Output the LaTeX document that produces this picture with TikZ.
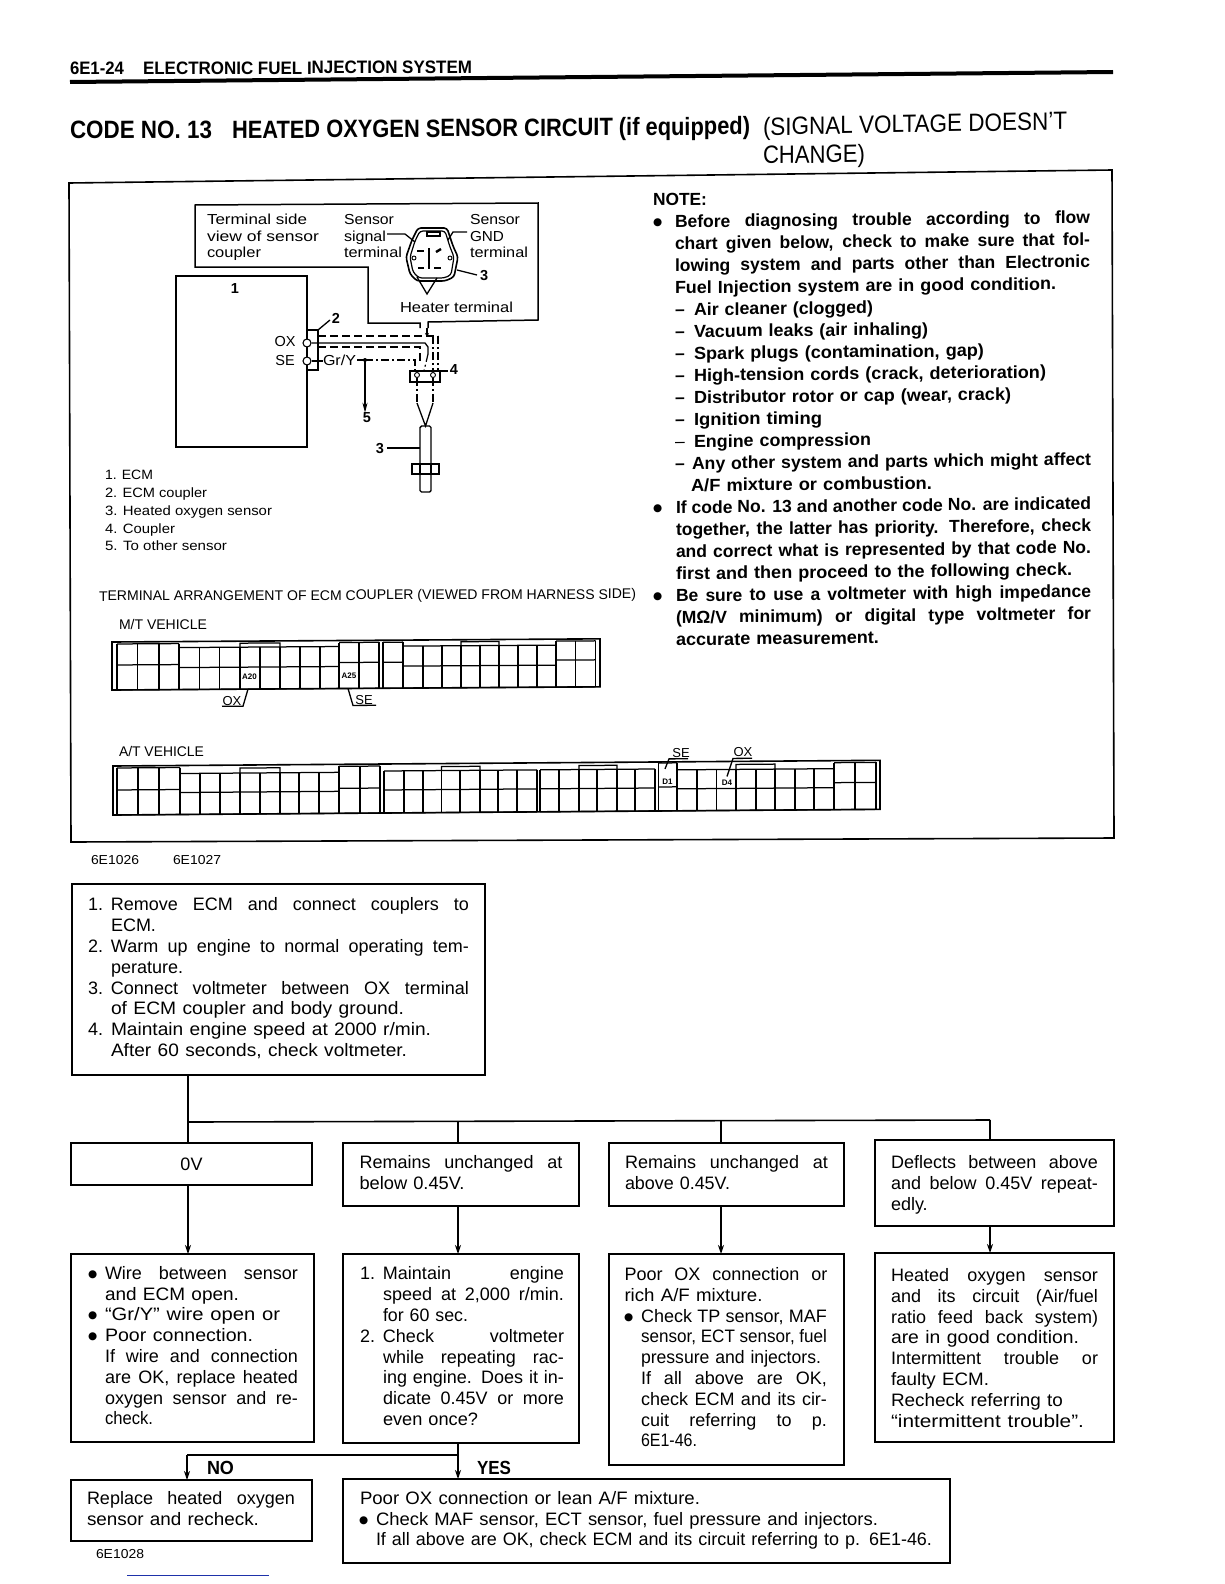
\documentclass[tikz,border=0pt]{standalone}
\usepackage{fontspec}
\usepackage{graphicx}
\setmainfont{Liberation Sans}
\newfontfamily\bulfont{DejaVu Sans}
\usetikzlibrary{arrows.meta}
\definecolor{scanblue}{RGB}{30,50,170}
\newsavebox\lnbox
\newcommand\fw[2]{\resizebox{#1pt}{\height}{#2}}
\newcommand\jl[2]{\begingroup\spaceskip=0pt\xspaceskip=0pt\relax\sbox\lnbox{#2}\ifdim\wd\lnbox>#1pt\relax\resizebox{#1pt}{\height}{\usebox\lnbox}\else\makebox[#1pt][s]{#2}\fi\endgroup}
\newcommand\ind[1]{\hspace*{#1pt}}
\newcommand\bul[1]{\makebox[#1pt][l]{\raisebox{2pt}{\bulfont\fontsize{10.5}{11}\selectfont ●}}}
\newcommand\num[2]{\makebox[#1pt][l]{#2}}
\newcommand\flowfont{\fontsize{18}{20.8}\selectfont}
\newcommand\notefont{\fontsize{17.5}{22}\selectfont\bfseries}
\newcommand\smallfont{\fontsize{14.5}{16.5}\selectfont}
\newcommand\legfont{\fontsize{13.5}{17.8}\selectfont}
\newcommand\cells[6]{%
  \foreach \xx in {#3} {\draw[cell] (\xx,#4) -- (\xx,#6);}
  \draw[cell] (#1,#4) -- (#2,#4);
  \draw[cell] (#1,#5) -- (#2,#5);
  \draw[cell] (#1,#6) -- (#2,#6);}
\tikzset{
  fbox/.style={draw,line width=1.6pt,anchor=north west,inner xsep=4pt,inner ysep=0pt,outer sep=0pt,align=left,font=\flowfont},
  lbl/.style={inner sep=0pt,outer sep=0pt,anchor=base west},
  blk/.style={inner sep=0pt,outer sep=0pt,anchor=north west,align=left},
  flowline/.style={line width=1.3pt},
  flowarrow/.style={line width=1.3pt,-{Stealth[length=9pt,width=6pt]}},
  frameline/.style={line width=1.6pt},
  wire/.style={line width=1.3pt},
  shield/.style={line width=1.2pt,dash pattern=on 8pt off 4pt},
  ddwire/.style={line width=1.2pt,dash pattern=on 8pt off 3pt on 2pt off 3pt},
  cell/.style={line width=1.25pt},
  outer/.style={line width=1.6pt},
  part/.style={draw,line width=1.4pt,anchor=north west,inner sep=0pt,outer sep=0pt},
  pin/.style={draw,circle,fill=white,line width=1.1pt,minimum size=8pt,inner sep=0pt},
  tinypin/.style={draw,circle,fill=white,line width=0.9pt,minimum size=5pt,inner sep=0pt},
  tinytxt/.style={inner sep=0pt,font=\fontsize{8}{9}\selectfont\bfseries},
}
\begin{document}
\begin{tikzpicture}[x=1pt,y=-1pt]
\useasboundingbox (0,0) rectangle (1224,1584);

% ---------- header
\node[lbl,yslant=0.003,font=\fontsize{18}{20}\selectfont\bfseries] (hd1) at (70,74.5) {\fw{54}{6E1-24}};
\node[lbl,yslant=0.003,font=\fontsize{18}{20}\selectfont\bfseries] (hd2) at (143,74.5) {\fw{329}{ELECTRONIC FUEL INJECTION SYSTEM}};
\coordinate (ruleL) at (70,82);
\coordinate (ruleR) at (1113,72);
\draw[line width=4pt] (ruleL) -- (ruleR);
\node[lbl,yslant=0.0075,font=\fontsize{25}{27}\selectfont\bfseries] (ti1) at (70,139) {\fw{142}{CODE NO. 13}};
\node[lbl,yslant=0.0075,font=\fontsize{25}{27}\selectfont\bfseries] (ti2) at (232,138.5) {\fw{518}{HEATED OXYGEN SENSOR CIRCUIT (if equipped)}};
\node[lbl,yslant=0.02,font=\fontsize{25}{27}\selectfont] (ti3) at (763,135.5) {\fw{304}{(SIGNAL VOLTAGE DOESN'T}};
\node[lbl,yslant=0.02,font=\fontsize{25}{27}\selectfont] (ti4) at (763,164) {\fw{102}{CHANGE)}};

% ---------- frame
\coordinate (frTL) at (69,183);
\coordinate (frTR) at (1112,170);
\coordinate (frBR) at (1114,838);
\coordinate (frBL) at (71,842);
\draw[frameline] (frTL) -- (frTR) -- (frBR) -- (frBL) -- cycle;

% ---------- inset box
\draw[wire,line width=1.5pt] (420,328) -- (420,323) -- (368,323) -- (368,267) -- (195,267) -- (195,205) -- (538,203) -- (538,320) -- (428,322) -- (428,328);
\node[blk,font=\smallfont] (insetA) at (207,214.4) {\fw{100}{Terminal side}\\\fw{112}{view of sensor}\\\fw{54}{coupler}};
\node[blk,font=\smallfont] (insetB) at (344,214.4) {\fw{50}{Sensor}\\\fw{42}{signal}\\\fw{58}{terminal}};
\node[blk,font=\smallfont] (insetC) at (470,214.4) {\fw{50}{Sensor}\\\fw{34}{GND}\\\fw{58}{terminal}};
\node[lbl,font=\smallfont] (heater) at (400,312) {\fw{113}{Heater terminal}};
\node[lbl,font=\smallfont\bfseries] (n3a) at (480,280.5) {3};
% sensor coupler glyph
\draw[line width=1.6pt,rounded corners=3pt] (418,228) -- (447,228) -- (453,246) -- (458,257) -- (454,277) -- (445,281) -- (417,281) -- (410,274) -- (406,257) -- (412,240) -- cycle;
\draw[line width=1.2pt,rounded corners=3pt] (420,231) -- (445,231) -- (450,247) -- (454,257) -- (451,275) -- (444,278) -- (419,278) -- (413,272) -- (410,257) -- (415,241) -- cycle;
\draw[line width=1.2pt] (427,232) rectangle (440,236);
\draw[line width=2.4pt] (429,248) -- (429,269);
\draw[line width=2.4pt] (417,251) -- (424,251);
\draw[line width=2.4pt] (436,252) -- (441,249);
\draw[line width=2.4pt] (418,268) -- (424,268);
\draw[line width=2.4pt] (434,268) -- (441,268);
\node[draw,circle,fill=white,line width=0.9pt,minimum size=4pt,inner sep=0pt] (cplL) at (414,258) {};
\node[draw,circle,fill=white,line width=0.9pt,minimum size=4pt,inner sep=0pt] (cplR) at (450,258) {};
\draw[wire] (387,234) -- (405,234) -- (415,242);
\draw[wire] (467,232) -- (453,232) -- (448,240);
\draw[wire] (457,270) -- (477,275);
\draw[wire] (417,277) -- (427,294) -- (437,278);

% ---------- ECM
\node[part,minimum width=131pt,minimum height=171pt] (ecm) at (176,276) {};
\node[inner sep=0pt,font=\smallfont\bfseries] (ecmno) at (235,289) {1};
\node[part,fill=white,minimum width=11pt,minimum height=40pt] (cpl2) at (307,330) {};
\node[pin] (oxpin) at (307,343) {};
\node[pin] (sepin) at (307,361) {};
\node[inner sep=0pt,font=\smallfont] (oxt) at (285,342) {OX};
\node[inner sep=0pt,font=\smallfont] (set) at (285,361) {SE};
\draw[wire] (cpl2.north east) -- (330,320);
\node[inner sep=0pt,font=\smallfont\bfseries] (n2) at (336,318) {2};
% wires
\coordinate (oxb) at (425,343);
\draw[wire] (oxpin) -- (oxb) -- (428,347) -- (428,354);
\draw[shield] (cpl2.north east |- 0,336) -- (438,336);
\draw[ddwire] (438,336) -- (438,371);
\draw[shield] (318,347) -- (420,347) -- (420,362);
\draw[ddwire] (433,336) -- (433,371);
\draw[ddwire] (428,354) -- (424,371);
\draw[wire,-{Stealth[length=4pt,width=4pt]}] (427,328) -- (427,337);
\draw[wire] (sepin) -- (323,361);
\node[lbl,font=\smallfont] (gry) at (323,365) {\fw{33}{Gr/Y}};
\coordinate (jct) at (365,360);
\draw[wire] (357,360) -- (jct);
\draw[ddwire] (jct) -- (415,360) -- (415,371);
\fill (jct) circle (2pt);
\node[inner sep=0pt,font=\smallfont\bfseries] (n5) at (367,418) {5};
\draw[wire,-{Stealth[length=10pt,width=5pt]}] (jct) -- (n5.north -| jct);
% coupler 4
\node[part,fill=white,minimum width=30pt,minimum height=11pt] (c4) at (410,371) {};
\node[tinypin] (c4a) at (417,375) {};
\node[tinypin] (c4b) at (433,375) {};
\draw[wire] (c4.north east) -- (448,371);
\node[inner sep=0pt,font=\smallfont\bfseries] (n4) at (454,370) {4};
% sensor
\node[draw,line width=1.4pt,rounded corners=1.5pt,anchor=north west,inner sep=0pt,outer sep=0pt,minimum width=11pt,minimum height=66pt] (sensor) at (420,426) {};
\node[part,fill=white,minimum width=27pt,minimum height=10pt] (flange) at (412,464) {};
\draw[wire] (420,464) -- (420,474) (431,464) -- (431,474);
\draw[ddwire] (c4a) -- (417,403);
\draw[ddwire] (c4b) -- (433,403);
\draw[wire] (417,403) -- (sensor.north) -- (433,403);
\node[inner sep=0pt,font=\smallfont\bfseries] (n3b) at (380,449) {3};
\draw[wire] (387,448) -- (sensor.west |- 0,448);

% ---------- legend
\node[blk,font=\legfont] (legend) at (105,470.2) {\fw{48}{1. ECM}\\\fw{102}{2. ECM coupler}\\\fw{167}{3. Heated oxygen sensor}\\\fw{70}{4. Coupler}\\\fw{122}{5. To other sensor}};

% ---------- note
\node[blk,font=\notefont,yslant=0.01,text width=470pt] (note) at (653,193.6) {%
\fw{54}{NOTE:}\\
\bul{22}\jl{415}{Before diagnosing trouble according to flow}\\
\ind{22}\jl{415}{chart given below, check to make sure that fol-}\\
\ind{22}\jl{415}{lowing system and parts other than Electronic}\\
\ind{22}\fw{381}{Fuel Injection system are in good condition.}\\
\ind{22}\makebox[19pt][l]{–}\fw{179}{Air cleaner (clogged)}\\
\ind{22}\makebox[19pt][l]{–}\fw{234}{Vacuum leaks (air inhaling)}\\
\ind{22}\makebox[19pt][l]{–}\fw{290}{Spark plugs (contamination, gap)}\\
\ind{22}\makebox[19pt][l]{–}\fw{352}{High-tension cords (crack, deterioration)}\\
\ind{22}\makebox[19pt][l]{–}\fw{317}{Distributor rotor or cap (wear, crack)}\\
\ind{22}\makebox[19pt][l]{–}\fw{128}{Ignition timing}\\
\ind{22}\makebox[19pt][l]{\mdseries –}\fw{177}{Engine compression}\\
\ind{22}\makebox[17pt][l]{–}\fw{399}{Any other system and parts which might affect}\\
\ind{38}\fw{241}{A/F mixture or combustion.}\\
\bul{23}\jl{415}{If code No. 13 and another code No. are indicated}\\
\ind{23}\jl{415}{together, the latter has priority. Therefore, check}\\
\ind{23}\jl{415}{and correct what is represented by that code No.}\\
\ind{23}\fw{396}{first and then proceed to the following check.}\\
\bul{23}\jl{415}{Be sure to use a voltmeter with high impedance}\\
\ind{23}\jl{415}{(MΩ/V minimum) or digital type voltmeter for}\\
\ind{23}\fw{203}{accurate measurement.}};

% ---------- terminal arrangement
\node[lbl,yslant=0.004,font=\fontsize{14}{16}\selectfont] (term) at (99,601) {\fw{537}{TERMINAL ARRANGEMENT OF ECM COUPLER (VIEWED FROM HARNESS SIDE)}};
\node[lbl,font=\fontsize{14}{16}\selectfont] (mt) at (119,629) {\fw{88}{M/T VEHICLE}};
\node[lbl,font=\fontsize{14}{16}\selectfont] (at) at (119,756) {\fw{85}{A/T VEHICLE}};

\begin{scope}[cm={1,0.0065,0,1,(0pt,-0.73pt)}]
  \draw[outer] (112,642) rectangle (600,690);
  \cells{117}{179}{117,137.5,159,179}{644}{665}{690}
  \cells{179}{339}{179,199.5,219.5,240,260,280,300,320,339}{648}{668}{690}
  \cells{339}{379}{339,359,379}{644}{664}{690}
  \cells{383}{403}{383,403}{644}{664}{690}
  \cells{403}{556}{403,423,442,461,480,499,518,537,556}{648}{668}{690}
  \cells{556}{595.5}{556,575.5,595.5}{644}{663}{690}
  \draw[cell] (240,648) -- (240,644) -- (280,644) -- (280,648);
  \draw[cell] (461,648) -- (461,644) -- (499,644) -- (499,648);
  \node[tinytxt] (a20) at (249.5,678) {A20};
  \node[tinytxt] (a25) at (349,677) {A25};
  \node[inner sep=0pt,font=\fontsize{13}{15}\selectfont] (oxm) at (232,702) {OX};
  \node[inner sep=0pt,font=\fontsize{13}{15}\selectfont] (sem) at (364,702) {SE};
  \coordinate (oxmA) at (248,690);
  \coordinate (semA) at (348,690);
  \draw[wire] (oxmA) -- (243,707) -- (222,707);
  \draw[wire] (semA) -- (353,707) -- (376,707);
\end{scope}

\begin{scope}[cm={1,0.0074,0,1,(0pt,-0.84pt)}]
  \draw[outer] (113,766) rectangle (880,815);
  \cells{117}{180}{117,138,159,180}{768}{790}{815}
  \cells{180}{339}{180,200,220,240,260,280,299,319,339}{774}{793}{815}
  \cells{339}{380}{339,360,380}{768}{790}{815}
  \cells{384}{537}{384,404,423,441.5,460,480,498,517,537}{773}{792}{815}
  \cells{540}{655}{540,559,579,597,617,635,655}{773}{792}{815}
  \cells{658.5}{677}{658.5,677}{767}{791}{815}
  \cells{677}{834}{677,697,716.5,736,756,775,795,814,834}{774}{793}{815}
  \cells{834}{876}{834,855,876}{768}{788}{815}
  \draw[cell] (240,774) -- (240,769) -- (280,769) -- (280,774);
  \draw[cell] (441.5,773) -- (441.5,769) -- (480,769) -- (480,773);
  \draw[cell] (579,773) -- (579,769) -- (617,769) -- (617,773);
  \draw[cell] (736,774) -- (736,769) -- (775,769) -- (775,774);
  \node[tinytxt] (d1) at (667.5,786) {D1};
  \node[tinytxt] (d4) at (727,787) {D4};
  \node[inner sep=0pt,font=\fontsize{13}{15}\selectfont] (set2) at (681,757) {SE};
  \node[inner sep=0pt,font=\fontsize{13}{15}\selectfont] (oxt2) at (743,757) {OX};
  \coordinate (d1top) at (665,773);
  \coordinate (d4top) at (727,781);
  \draw[wire] (d1top) -- (669,763) -- (688,763);
  \draw[wire] (d4top) -- (733,763) -- (752,763);
\end{scope}

\node[lbl,font=\fontsize{13}{15}\selectfont] (fig1) at (91,864) {\fw{48}{6E1026}};
\node[lbl,font=\fontsize{13}{15}\selectfont] (fig2) at (173,864) {\fw{48}{6E1027}};

% ---------- flowchart
\node[fbox,minimum height=191pt,text width=405pt] (A) at (72,884) {%
\ind{12}\strut\num{23}{1.}\jl{358}{Remove ECM and connect couplers to}\\
\ind{35}ECM.\\
\ind{12}\num{23}{2.}\jl{358}{Warm up engine to normal operating tem-}\\
\ind{35}perature.\\
\ind{12}\num{23}{3.}\jl{358}{Connect voltmeter between OX terminal}\\
\ind{35}\fw{293}{of ECM coupler and body ground.}\\
\ind{12}\num{23}{4.}\fw{320}{Maintain engine speed at 2000 r/min.}\\
\ind{35}\fw{296}{After 60 seconds, check voltmeter.}\strut};

\node[fbox,minimum height=42pt,text width=233pt,align=center] (zero) at (71,1143) {0V};
\node[fbox,minimum height=63pt,text width=228pt] (R1) at (343,1143) {%
\ind{12.5}\strut\jl{203}{Remains unchanged at}\\
\ind{12.5}\fw{105}{below 0.45V.}\strut};
\node[fbox,minimum height=63pt,text width=227pt] (R2) at (609,1143) {%
\ind{12}\strut\jl{203}{Remains unchanged at}\\
\ind{12}\fw{105}{above 0.45V.}\strut};
\node[fbox,minimum height=86pt,text width=231pt] (D) at (875,1140) {%
\vspace*{-1pt}\par
\ind{12}\strut\jl{207}{Deflects between above}\\
\ind{12}\jl{207}{and below 0.45V repeat-}\\
\ind{12}edly.\strut};

\node[fbox,minimum height=188pt,text width=235pt] (W) at (71,1254) {%
\ind{13}\strut\bul{17}\jl{193}{Wire between sensor}\\
\ind{30}\fw{134}{and ECM open.}\\
\ind{13}\bul{17}\fw{175}{“Gr/Y” wire open or}\\
\ind{13}\bul{17}\fw{148}{Poor connection.}\\
\ind{30}\jl{193}{If wire and connection}\\
\ind{30}\jl{193}{are OK, replace heated}\\
\ind{30}\jl{193}{oxygen sensor and re-}\\
\ind{30}\fw{48}{check.}\strut};

\node[fbox,minimum height=189pt,text width=228pt] (M) at (343,1254) {%
\ind{13}\strut\num{23}{1.}\jl{181}{Maintain engine}\\
\ind{36}\jl{181}{speed at 2,000 r/min.}\\
\ind{36}\fw{85}{for 60 sec.}\\
\ind{13}\num{23}{2.}\jl{181}{Check voltmeter}\\
\ind{36}\jl{181}{while repeating rac-}\\
\ind{36}\jl{181}{ing engine. Does it in-}\\
\ind{36}\jl{181}{dicate 0.45V or more}\\
\ind{36}\fw{95}{even once?}\strut};

\node[fbox,minimum height=211pt,text width=227pt] (P) at (609,1254) {%
\ind{11.5}\strut\jl{203}{Poor OX connection or}\\
\ind{11.5}\fw{138}{rich A/F mixture.}\\
\ind{11}\bul{17}\jl{186}{Check TP sensor, MAF}\\
\ind{28}\jl{186}{sensor, ECT sensor, fuel}\\
\ind{28}\fw{180}{pressure and injectors.}\\
\ind{28}\jl{186}{If all above are OK,}\\
\ind{28}\jl{186}{check ECM and its cir-}\\
\ind{28}\jl{186}{cuit referring to p.}\\
\ind{28}\fw{56}{6E1-46.}\strut};

\node[fbox,minimum height=189pt,text width=231pt] (H) at (875,1253) {%
\vspace*{-1pt}\par
\ind{12}\strut\jl{207}{Heated oxygen sensor}\\
\ind{12}\jl{207}{and its circuit (Air/fuel}\\
\ind{12}\jl{207}{ratio feed back system)}\\
\ind{12}\fw{188}{are in good condition.}\\
\ind{12}\jl{207}{Intermittent trouble or}\\
\ind{12}\fw{98}{faulty ECM.}\\
\ind{12}\fw{172}{Recheck referring to}\\
\ind{12}\fw{193}{“intermittent trouble”.}\strut};

\node[fbox,minimum height=61pt,text width=233pt] (Rep) at (71,1480) {%
\ind{12}\strut\jl{208}{Replace heated oxygen}\\
\ind{12}\fw{172}{sensor and recheck.}\strut};
\node[fbox,minimum height=84pt,text width=599pt] (Poor) at (343,1479) {%
\ind{13}\strut\fw{340}{Poor OX connection or lean A/F mixture.}\\
\ind{12}\bul{17}\fw{502}{Check MAF sensor, ECT sensor, fuel pressure and injectors.}\\
\ind{29}\fw{556}{If all above are OK, check ECM and its circuit referring to p. 6E1-46.}\strut};

\node[lbl,font=\fontsize{13}{15}\selectfont] (fig3) at (96,1558) {\fw{48}{6E1028}};
\coordinate (blueL) at (127,1575);
\coordinate (blueR) at (269,1575);
\draw[scanblue,line width=1pt] (blueL) -- (blueR);

% connectors
\coordinate (busL) at (188,1122);
\coordinate (bus2) at (458,1122);
\coordinate (bus3) at (721,1121);
\coordinate (busR) at (990,1120);
\draw[flowline] (A.south -| busL) -- (busL) -- (zero.north -| busL);
\draw[flowline,line width=1.6pt] (busL) -- (busR);
\draw[flowline] (bus2) -- (R1.north -| bus2);
\draw[flowline] (bus3) -- (R2.north -| bus3);
\draw[flowline] (busR) -- (D.north -| busR);
\draw[flowarrow] (zero.south -| busL) -- (W.north -| busL);
\draw[flowarrow] (R1.south -| bus2) -- (M.north -| bus2);
\draw[flowarrow] (R2.south -| bus3) -- (P.north -| bus3);
\draw[flowarrow] (D.south -| busR) -- (H.north -| busR);
\coordinate (yn) at (458,1455);
\coordinate (noc) at (187,1455);
\draw[flowline,line width=1.6pt] (yn) -- (noc);
\draw[flowarrow] (noc) -- (Rep.north -| noc);
\draw[flowarrow] (M.south -| yn) -- (Poor.north -| yn);
\node[lbl,font=\fontsize{19}{21}\selectfont\bfseries] (no) at (207,1474) {\fw{27}{NO}};
\node[lbl,font=\fontsize{19}{21}\selectfont\bfseries] (yes) at (477,1474) {\fw{34}{YES}};
\end{tikzpicture}
\end{document}
